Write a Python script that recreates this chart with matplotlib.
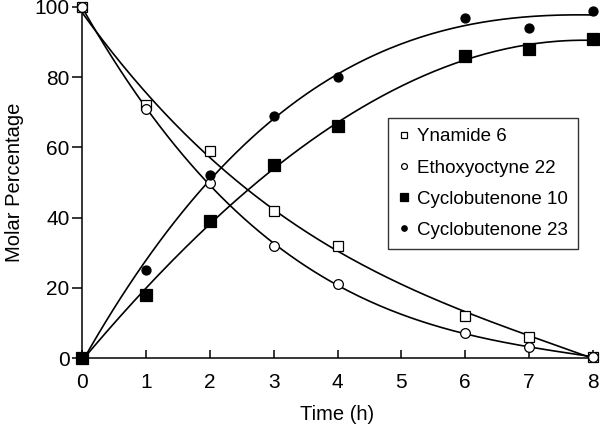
import numpy as np
import matplotlib
matplotlib.use('Agg')
import matplotlib.pyplot as plt

plt.rcParams['font.family'] = ['Liberation Sans', 'DejaVu Sans']

# time points (h)
time_h = [0, 1, 2, 3, 4, 6, 7, 8]

# molar percentages
ynamide_6 = [100, 72, 59, 42, 32, 12, 6, 0.4]
ethoxyoctyne_22 = [100, 71, 50, 32, 21, 7, 3, 0.4]
cyclobutenone_10 = [0, 18, 39, 55, 66, 86, 88, 91]
cyclobutenone_23 = [0, 25, 52, 69, 80, 97, 94, 99]

series = [
    ('Ynamide 6', ynamide_6, 's', 'white'),
    ('Ethoxyoctyne 22', ethoxyoctyne_22, 'o', 'white'),
    ('Cyclobutenone 10', cyclobutenone_10, 's', 'black'),
    ('Cyclobutenone 23', cyclobutenone_23, 'o', 'black'),
]
marker_sizes = {'Ynamide 6': 7.5, 'Ethoxyoctyne 22': 7, 'Cyclobutenone 10': 8.5, 'Cyclobutenone 23': 6.5}

fs_tick = 15
fs_label = 14.5
fs_leg = 13.5

fig = plt.figure(figsize=(6.0, 4.29), dpi=100)
ax = fig.add_axes([82 / 600, 1 - 358 / 429, 511 / 600, 351 / 429])

t = np.array(time_h, dtype=float)
t_fine = np.linspace(0, 8, 200)

# smooth trend lines (cubic least-squares fit of each series)
for label, vals, mk, fc in series:
    coef = np.polyfit(t, np.array(vals, dtype=float), 3)
    ax.plot(t_fine, np.polyval(coef, t_fine), '-', color='black', lw=1.2, zorder=2)

handles = []
for label, vals, mk, fc in series:
    h, = ax.plot(t, vals, linestyle='none', marker=mk, markersize=marker_sizes[label],
                 markerfacecolor=fc, markeredgecolor='black', markeredgewidth=0.9,
                 label=label, zorder=3, clip_on=False)
    handles.append(h)

ax.set_xlim(0, 8)
ax.set_ylim(0, 100)
ax.set_xticks(range(0, 9))
ax.set_yticks([0, 20, 40, 60, 80, 100])
ax.spines['top'].set_visible(False)
ax.spines['right'].set_visible(False)
for s in ('left', 'bottom'):
    ax.spines[s].set_linewidth(1.1)
ax.tick_params(axis='x', direction='in', length=6, width=1.1, labelsize=fs_tick, pad=11)
ax.tick_params(axis='y', direction='out', length=7, width=1.1, labelsize=fs_tick, pad=2)

ax.set_xlabel('Time (h)', fontsize=fs_label, labelpad=9)
ax.set_ylabel('Molar Percentage', fontsize=fs_label, labelpad=7.5)

leg = ax.legend(handles=handles, loc='upper left', bbox_to_anchor=(0.599, 0.684),
                fontsize=fs_leg, markerscale=0.6, handlelength=0.6, handletextpad=0.4,
                labelspacing=0.75, borderpad=0.55, borderaxespad=0, fancybox=False,
                frameon=True, edgecolor='black')
leg.get_frame().set_linewidth(1.0)

fig.savefig('out.png', dpi=100)
plt.close(fig)
